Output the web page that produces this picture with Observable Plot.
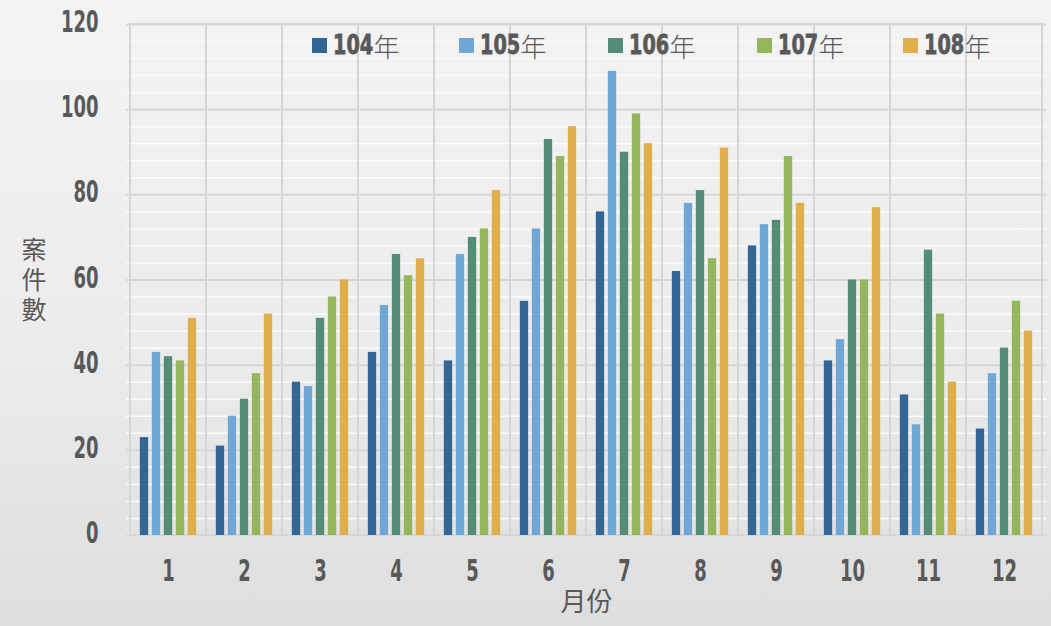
<!DOCTYPE html>
<html>
<head>
<meta charset="utf-8">
<script src="https://cdn.jsdelivr.net/npm/d3@7"></script>
<script src="https://cdn.jsdelivr.net/npm/@observablehq/plot@0.6"></script>
<style>
  html, body { margin: 0; padding: 0; }
  body {
    width: 1051px; height: 626px; overflow: hidden; position: relative;
    background: linear-gradient(to bottom, #f3f3f3 0%, #ececec 55%, #dedede 100%);
  }
  #chart { position: absolute; left: 0; top: 0; }
  #legend { position: absolute; left: 0; top: 28px; width: 1051px; height: 34px; }
  .item { position: absolute; top: 0; display: flex; align-items: center; height: 34px; white-space: nowrap; }
  .sw { width: 15px; height: 15px; margin-right: 6px; flex: none; }
  .num { display: inline-block; transform: scaleX(0.74); transform-origin: left center; font-family: "DejaVu Sans", sans-serif; font-weight: bold; font-size: 26px; color: #595959; -webkit-text-stroke: 0.8px #595959; }
  .yr { font-family: "Noto Sans CJK TC", sans-serif; font-weight: 300; font-size: 26px; color: #595959; }
  #ylabel { position: absolute; left: 20px; top: 237px; writing-mode: vertical-rl; letter-spacing: 5px; font-family: "Noto Sans CJK TC", sans-serif; font-size: 25px; line-height: 28px; color: #595959; }
</style>
</head>
<body>
<div id="chart"></div>
<div id="legend"></div>
<div id="ylabel">案件數</div>
<script>
const months = ["1","2","3","4","5","6","7","8","9","10","11","12"];
const years = ["104年","105年","106年","107年","108年"];
const v104 = [23, 21, 36, 43, 41, 55, 76, 62, 68, 41, 33, 25];
const v105 = [43, 28, 35, 54, 66, 72, 109, 78, 73, 46, 26, 38];
const v106 = [42, 32, 51, 66, 70, 93, 90, 81, 74, 60, 67, 44];
const v107 = [41, 38, 56, 61, 72, 89, 99, 65, 89, 60, 52, 55];
const v108 = [51, 52, 60, 65, 81, 96, 92, 91, 78, 77, 36, 48];
const colors = ["#346695", "#6fa7d6", "#548c78", "#94b75c", "#e0ae4d"];
const yTicks = [0, 20, 40, 60, 80, 100, 120];
const yMinorTicks = d3.range(0, 121, 4);

const series = [v104, v105, v106, v107, v108];
const data = months.flatMap((m, i) => years.map((y, j) => ({month: m, year: y, value: series[j][i]})));

const W = 1051, H = 626, ML = 126, MR = 5, MT = 24, MB = 91;
const band = (W - ML - MR) / months.length;
const half = band / 2, bw = 9, step = 12;

const tickFont = '"DejaVu Sans", sans-serif';
const cjkFont = '"Noto Sans CJK TC", sans-serif';

const bars = years.map((y, j) => Plot.barY(data.filter(d => d.year === y), {
  x: "month", y: "value", fill: colors[j],
  insetLeft: half - bw / 2 + (j - 2) * step,
  insetRight: half - bw / 2 - (j - 2) * step
}));

const chart = Plot.plot({
  width: W, height: H,
  marginLeft: ML, marginRight: MR, marginTop: MT, marginBottom: MB,
  style: {background: "transparent", color: "#595959"},
  x: {domain: months, padding: 0, label: null},
  y: {domain: [0, 120], label: null},
  marks: [
    Plot.gridY(yMinorTicks, {stroke: "#fbfbfb", strokeOpacity: 1, strokeWidth: 1.5}),
    Plot.gridY(yTicks, {stroke: "#d6d6d6", strokeOpacity: 1, strokeWidth: 2}),
    Plot.cell(months, {x: d => d, fill: "none", stroke: "#d6d6d6", strokeWidth: 2}),
    ...bars,
    Plot.axisY(yTicks, {tickSize: 0, tickPadding: 28, fontSize: 30, fontFamily: tickFont, fontWeight: "bold", fill: "#595959", stroke: "#595959", strokeWidth: 1, dy: -2, label: null}),
    Plot.axisX(months, {tickSize: 0, tickPadding: 24, fontSize: 30, fontFamily: tickFont, fontWeight: "bold", fill: "#595959", stroke: "#595959", strokeWidth: 1, label: null}),
    Plot.text(["月份"], {frameAnchor: "bottom", dy: 75, fontSize: 26, fontFamily: cjkFont, fill: "#595959"})
  ]
});
document.getElementById("chart").appendChild(chart);

// condense the bold tick digits to mimic the narrow display face
chart.querySelectorAll('g[aria-label="y-axis tick label"] text, g[aria-label="x-axis tick label"] text').forEach(t => {
  const L = t.getComputedTextLength();
  t.setAttribute("textLength", (L * 0.6).toFixed(1));
  t.setAttribute("lengthAdjust", "spacingAndGlyphs");
});

const legendX = [312, 459, 608, 757, 903];
const legend = document.getElementById("legend");
years.forEach((y, j) => {
  const item = document.createElement("div");
  item.className = "item";
  item.style.left = legendX[j] + "px";
  item.innerHTML = `<div class="sw" style="background:${colors[j]}"></div><span class="num">${y.slice(0, 3)}</span><span class="yr">${y.slice(3)}</span>`;
  legend.appendChild(item);
  const num = item.querySelector(".num");
  const w = num.getBoundingClientRect().width;
  const raw = num.offsetWidth;
  num.style.marginRight = (w - raw) + "px";
});
</script>
</body>
</html>
